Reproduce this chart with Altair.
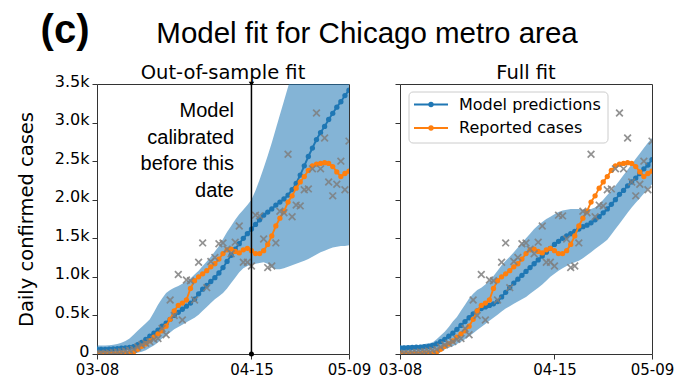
import altair as alt
import pandas as pd

# ---------------- data ----------------
tick_days = [0, 38, 62]
tick_labels = ["03-08", "04-15", "05-09"]
y_ticks = [0, 500, 1000, 1500, 2000, 2500, 3000, 3500]
y_tick_labels = ["0", "0.5k", "1.0k", "1.5k", "2.0k", "2.5k", "3.0k", "3.5k"]
calibration_day = 38

reported_daily = [5, 10, 8, 15, 20, 25, 30, 40, 50, 60,
                  90, 120, 140, 160, 190, 200, 330, 250, 700, 500,
                  1030, 440, 960, 950, 700, 1190, 1440, 860, 1200, 1250,
                  1430, 1440, 1360, 1300, 1450, 1660, 1190, 1190, 1140, 1800,
                  1790, 1490, 1120, 1140, 1440, 1850, 1830, 2590, 1780, 1930,
                  1920, 2130, 2140, 2400, 3125, 2400, 2800, 2230, 2050, 2200,
                  2500, 2130, 2760]

reported_avg = [0, 0, 0, 0, 5, 5, 10, 10, 15, 25,
                60, 100, 130, 170, 220, 260, 300, 360, 450, 560,
                630, 660, 700, 850, 950, 1000, 1040, 1080, 1130, 1170,
                1230, 1300, 1350, 1360, 1330, 1310, 1350, 1370, 1340, 1300,
                1300, 1340, 1420, 1530, 1660, 1760, 1850, 1970, 2050, 2150,
                2230, 2300, 2380, 2440, 2460, 2470, 2480, 2470, 2430, 2360,
                2300, 2340, 2370]

oos_model = [60, 60, 60, 62, 65, 70, 75, 80, 85, 95,
             120, 150, 190, 230, 270, 310, 360, 400, 450, 500,
             540, 580, 620, 660, 710, 780, 840, 890, 940, 990,
             1050, 1120, 1200, 1280, 1360, 1430, 1500, 1560, 1620, 1680,
             1740, 1800, 1840, 1880, 1930, 1970, 2010, 2060, 2130, 2210,
             2320, 2440, 2560, 2670, 2780, 2870, 2950, 3040, 3120, 3200,
             3270, 3350, 3420]

oos_lower = [0, 0, 0, 0, 0, 0, 0, 0, 0, 5,
             15, 30, 50, 80, 110, 150, 200, 240, 280, 320,
             350, 380, 410, 440, 470, 510, 560, 610, 660, 710,
             750, 790, 850, 920, 990, 1060, 1110, 1140, 1160, 1170,
             1180, 1190, 1170, 1120, 1100, 1100, 1110, 1130, 1150, 1170,
             1190, 1210, 1230, 1260, 1290, 1320, 1340, 1360, 1380, 1390,
             1400, 1400, 1410]

oos_upper = [110, 110, 110, 115, 120, 130, 145, 170, 200, 250,
             300, 350, 400, 450, 540, 640, 720, 790, 830, 860,
             880, 910, 940, 980, 1030, 1080, 1140, 1200, 1260, 1330,
             1400, 1490, 1580, 1660, 1740, 1810, 1870, 1930, 2000, 2120,
             2260, 2410, 2570, 2740, 2920, 3100, 3280, 3460, 3640, 3820,
             4000, 4150, 4300, 4450, 4600, 4750, 4900, 5000, 5100, 5200,
             5300, 5400, 5500]

full_model = [80, 80, 82, 85, 88, 90, 95, 100, 110, 130,
              160, 190, 230, 270, 320, 370, 420, 470, 520, 560,
              590, 610, 630, 650, 680, 740, 800, 860, 920, 970,
              1020, 1070, 1120, 1170, 1220, 1270, 1320, 1370, 1420, 1460,
              1500, 1530, 1560, 1590, 1620, 1650, 1670, 1700, 1740, 1780,
              1830, 1880, 1940, 2000, 2070, 2120, 2180, 2230, 2280, 2340,
              2400, 2450, 2520]

full_lower = [0, 0, 0, 0, 0, 0, 5, 10, 15, 25,
              40, 60, 80, 100, 130, 160, 190, 230, 270, 310,
              350, 390, 430, 470, 510, 550, 590, 620, 650, 680,
              710, 740, 780, 820, 860, 900, 950, 1000, 1040, 1080,
              1110, 1140, 1170, 1190, 1210, 1240, 1280, 1320, 1360, 1400,
              1440, 1480, 1550, 1620, 1690, 1760, 1830, 1900, 1960, 2020,
              2080, 2140, 2200]

full_upper = [110, 110, 110, 112, 115, 120, 130, 140, 150, 190,
              240, 290, 350, 420, 480, 560, 640, 720, 780, 830,
              860, 900, 950, 1010, 1080, 1150, 1210, 1260, 1320, 1380,
              1440, 1500, 1560, 1620, 1670, 1710, 1750, 1780, 1810, 1840,
              1860, 1870, 1880, 1880, 1880, 1870, 1860, 1880, 1900, 1940,
              2000, 2060, 2120, 2180, 2250, 2320, 2390, 2460, 2530, 2600,
              2670, 2740, 2800]

days = list(range(len(reported_daily)))

# ---------------- styles ----------------
BLUE = "#1f77b4"
ORANGE = "#ff7f0e"
GRAY = "#7f7f7f"
AXIS_FONT = "DejaVu Sans"
TITLE_FONT = "Liberation Sans"
W, H = 252, 270
CROSS = "M-1,-1L1,1M-1,1L1,-1"
DOT = 28


def label_expr(values, labels):
    expr = ""
    for v, lab in zip(values, labels):
        expr += f"datum.value == {v} ? '{lab}' : "
    return expr + "''"


x_axis = alt.Axis(values=tick_days, labelExpr=label_expr(tick_days, tick_labels),
                  labelFlush=False, grid=False, domain=False, tickSize=5,
                  tickColor="#333", labelFont=AXIS_FONT, labelFontSize=15,
                  labelColor="black", labelPadding=3)
x_scale = alt.Scale(domain=[0, 62], nice=False, zero=False)
y_scale = alt.Scale(domain=[0, 3500], nice=False, zero=False)


def xe():
    return alt.X("day:Q", scale=x_scale, axis=x_axis, title=None)


def make_y(show_labels):
    if show_labels:
        ax = alt.Axis(values=y_ticks, labelExpr=label_expr(y_ticks, y_tick_labels),
                      grid=False, domain=False, tickSize=5, tickColor="#333",
                      labelFont=AXIS_FONT, labelFontSize=16, labelColor="black",
                      labelPadding=3, labelOffset=-3,
                      titleFont=AXIS_FONT, titleFontSize=19.5,
                      titleFontWeight="normal", titleColor="black",
                      titleX=-71, titleY=135, titleAngle=270,
                      titleAlign="center", titleBaseline="middle")
        title = "Daily confirmed cases"
    else:
        ax = alt.Axis(values=y_ticks, labels=False, grid=False, domain=False,
                      tickSize=5, tickColor="#333")
        title = None

    def ye(field):
        return alt.Y(field, scale=y_scale, axis=ax, title=title)
    return ye


one = pd.DataFrame({"k": [0]})


def panel(model, lower, upper, show_labels, panel_title, extras):
    ye = make_y(show_labels)
    df = pd.DataFrame({"day": days, "model": model, "lower": lower, "upper": upper,
                       "avg": reported_avg, "daily": reported_daily})
    band = alt.Chart(df).mark_area(color=BLUE, opacity=0.55, clip=True).encode(
        x=xe(), y=ye("lower:Q"), y2="upper:Q")
    blue = alt.Chart(df).mark_line(
        color=BLUE, strokeWidth=1.9, clip=True,
        point=alt.OverlayMarkDef(color=BLUE, filled=True, size=DOT, clip=True)
    ).encode(x=xe(), y=ye("model:Q"))
    orange = alt.Chart(df).mark_line(
        color=ORANGE, strokeWidth=1.9, clip=True,
        point=alt.OverlayMarkDef(color=ORANGE, filled=True, size=DOT, clip=True)
    ).encode(x=xe(), y=ye("avg:Q"))
    crosses = alt.Chart(df).mark_point(
        shape=CROSS, filled=False, color=GRAY, opacity=0.85, size=45,
        strokeWidth=1.7, clip=True
    ).encode(x=xe(), y=ye("daily:Q"))
    ptitle = alt.Chart(one).mark_text(
        text=panel_title, font=AXIS_FONT, fontSize=19.5, color="black",
        align="center", baseline="alphabetic"
    ).encode(x=alt.value(W / 2), y=alt.value(-5))
    layers = [band, blue, orange, crosses, ptitle] + extras
    return alt.layer(*layers).properties(width=W, height=H)


# ---- left-panel extras ----
rule_df = pd.DataFrame({"day": [calibration_day]})
ends_top = pd.DataFrame({"day": [calibration_day], "v": [y_ticks[-1]]})
ends_bot = pd.DataFrame({"day": [calibration_day], "v": [y_ticks[0]]})
ye_left = make_y(True)

cal_rule = alt.Chart(rule_df).mark_rule(color="black", strokeWidth=1.5).encode(x=xe())
cal_top = alt.Chart(ends_top).mark_point(shape="triangle-down", filled=True,
                                         color="black", size=30, opacity=1).encode(
    x=xe(), y=ye_left("v:Q"))
cal_bot = alt.Chart(ends_bot).mark_point(shape="circle", filled=True,
                                         color="black", size=25, opacity=1).encode(
    x=xe(), y=ye_left("v:Q"))
cal_text = alt.Chart(one).mark_text(
    text=["Model", "calibrated", "before this", "date"], font=TITLE_FONT,
    fontSize=20, lineHeight=26.7, align="right", baseline="top", color="black"
).encode(x=alt.value(137), y=alt.value(17))

main_title = alt.Chart(one).mark_text(
    text="Model fit for Chicago metro area", font=TITLE_FONT, fontSize=29.5,
    align="center", baseline="alphabetic", color="black"
).encode(x=alt.value(270), y=alt.value(-41))
panel_tag = alt.Chart(one).mark_text(
    text="(c)", font=TITLE_FONT, fontSize=40, fontWeight="bold",
    align="center", baseline="alphabetic", color="black"
).encode(x=alt.value(-32), y=alt.value(-41))
anchor = alt.Chart(one).mark_rect(opacity=0).encode(
    x=alt.value(-88), x2=alt.value(0), y=alt.value(-75), y2=alt.value(0))

left = panel(oos_model, oos_lower, oos_upper, True, "Out-of-sample fit",
             [cal_rule, cal_top, cal_bot, cal_text, main_title, panel_tag, anchor])

# ---- right-panel legend ----
legend_items = ["Model predictions", "Reported cases"]
legend_colors = [BLUE, ORANGE]
legend_box = alt.Chart(one).mark_rect(
    fill="white", fillOpacity=0.85, stroke="#cccccc", strokeWidth=1, cornerRadius=4
).encode(x=alt.value(9), x2=alt.value(208), y=alt.value(8), y2=alt.value(59))
legend_layers = [legend_box]
for i, (lab, col) in enumerate(zip(legend_items, legend_colors)):
    yy = 20.5 + i * 23.5
    legend_layers.append(alt.Chart(one).mark_rule(color=col, strokeWidth=1.9).encode(
        x=alt.value(14), x2=alt.value(48), y=alt.value(yy)))
    legend_layers.append(alt.Chart(one).mark_point(color=col, filled=True, size=DOT,
                                                   opacity=1).encode(
        x=alt.value(31), y=alt.value(yy)))
    legend_layers.append(alt.Chart(one).mark_text(
        text=lab, font=AXIS_FONT, fontSize=16, align="left", baseline="middle",
        color="black").encode(x=alt.value(59), y=alt.value(yy)))

right = panel(full_model, full_lower, full_upper, False, "Full fit", legend_layers)

chart = alt.hconcat(left, right, spacing=51, bounds="flush").properties(
    padding=0
).configure_view(stroke="#333", strokeWidth=1)

chart.save("out.html", embed_options={"renderer": "svg", "actions": False})
